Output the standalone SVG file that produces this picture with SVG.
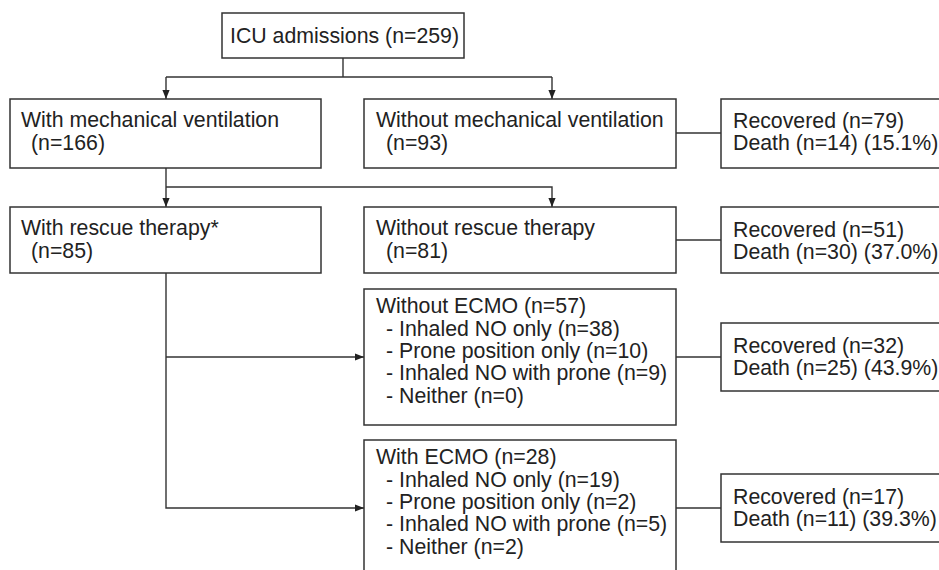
<svg xmlns="http://www.w3.org/2000/svg" width="939" height="570" viewBox="0 0 939 570">
<defs>
<style>
.box{fill:#fff;stroke:#333;stroke-width:1.5}
.t{font-family:"Liberation Sans",Arial,sans-serif;font-size:21.3px;fill:#222}
.c{fill:none;stroke:#333;stroke-width:1.4}
</style>
<marker id="ah" viewBox="0 0 10 8" refX="10" refY="4" markerWidth="9" markerHeight="7.5" markerUnits="userSpaceOnUse" orient="auto">
<path d="M0,0 L10,4 L0,8 z" fill="#222"/>
</marker>
</defs>
<rect width="939" height="570" fill="#fff"/>
<g id="connectors">
<path class="c" d="M343,58 V77"/>
<path class="c" d="M166,77 H552"/>
<path class="c" d="M166,77 V99" marker-end="url(#ah)"/>
<path class="c" d="M552,77 V99" marker-end="url(#ah)"/>
<path class="c" d="M676,133 H721"/>
<path class="c" d="M166,168 V207" marker-end="url(#ah)"/>
<path class="c" d="M166,187 H552 V207" marker-end="url(#ah)"/>
<path class="c" d="M676,240 H721"/>
<path class="c" d="M166,273 V508 H364" marker-end="url(#ah)"/>
<path class="c" d="M166,357 H364" marker-end="url(#ah)"/>
<path class="c" d="M676,357 H721"/>
<path class="c" d="M676,508 H721"/>
</g>
<g id="icu">
<rect class="box" x="222" y="13" width="242" height="45"/>
<text class="t" x="230" y="43">ICU admissions (n=259)</text>
</g>
<g id="with-mv">
<rect class="box" x="10" y="99" width="311" height="69"/>
<text class="t" x="21" y="127">With mechanical ventilation</text>
<text class="t" x="31" y="150">(n=166)</text>
</g>
<g id="without-mv">
<rect class="box" x="364" y="99" width="312" height="69"/>
<text class="t" x="376" y="127">Without mechanical ventilation</text>
<text class="t" x="386" y="150">(n=93)</text>
</g>
<g id="result-1">
<rect class="box" x="721" y="99" width="240" height="69"/>
<text class="t" x="733" y="128">Recovered (n=79)</text>
<text class="t" x="733" y="150">Death (n=14) (15.1%)</text>
</g>
<g id="with-rescue">
<rect class="box" x="10" y="207" width="311" height="66"/>
<text class="t" x="21" y="235">With rescue therapy*</text>
<text class="t" x="31" y="258">(n=85)</text>
</g>
<g id="without-rescue">
<rect class="box" x="364" y="207" width="312" height="66"/>
<text class="t" x="376" y="235">Without rescue therapy</text>
<text class="t" x="386" y="258">(n=81)</text>
</g>
<g id="result-2">
<rect class="box" x="721" y="207" width="240" height="66"/>
<text class="t" x="733" y="237">Recovered (n=51)</text>
<text class="t" x="733" y="259">Death (n=30) (37.0%)</text>
</g>
<g id="without-ecmo">
<rect class="box" x="364" y="289" width="312" height="136"/>
<text class="t" x="376" y="313">Without ECMO (n=57)</text>
<text class="t" x="386" y="336">- Inhaled NO only (n=38)</text>
<text class="t" x="386" y="358">- Prone position only (n=10)</text>
<text class="t" x="386" y="380">- Inhaled NO with prone (n=9)</text>
<text class="t" x="386" y="403">- Neither (n=0)</text>
</g>
<g id="result-3">
<rect class="box" x="721" y="323" width="240" height="68"/>
<text class="t" x="733" y="353">Recovered (n=32)</text>
<text class="t" x="733" y="375">Death (n=25) (43.9%)</text>
</g>
<g id="with-ecmo">
<rect class="box" x="364" y="440" width="312" height="140"/>
<text class="t" x="376" y="464">With ECMO (n=28)</text>
<text class="t" x="386" y="487">- Inhaled NO only (n=19)</text>
<text class="t" x="386" y="509">- Prone position only (n=2)</text>
<text class="t" x="386" y="531">- Inhaled NO with prone (n=5)</text>
<text class="t" x="386" y="554">- Neither (n=2)</text>
</g>
<g id="result-4">
<rect class="box" x="721" y="474" width="240" height="68"/>
<text class="t" x="733" y="504">Recovered (n=17)</text>
<text class="t" x="733" y="526">Death (n=11) (39.3%)</text>
</g>
</svg>
